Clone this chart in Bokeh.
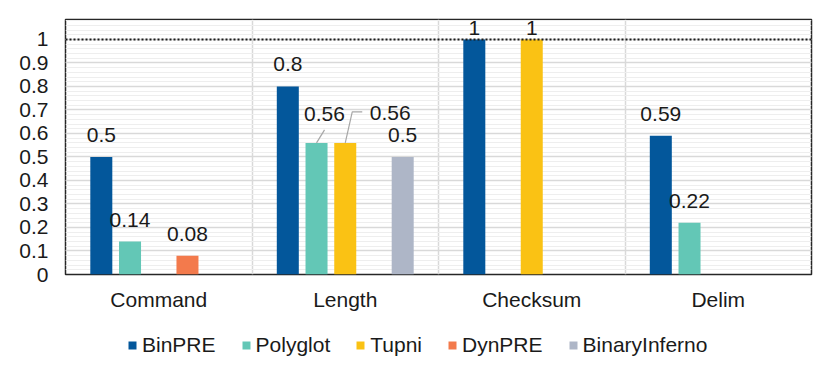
from bokeh.plotting import figure
from bokeh.layouts import column
from bokeh.models import (ColumnDataSource, Range1d, FixedTicker, SingleIntervalTicker,
                          CustomJSTickFormatter, Span, Legend, LegendItem)
from bokeh.core.properties import value
from bokeh.embed import file_html
from bokeh.resources import INLINE

categories = ["Command", "Length", "Checksum", "Delim"]
series = ["BinPRE", "Polyglot", "Tupni", "DynPRE", "BinaryInferno"]
binpre = [0.5, 0.8, 1, 0.59]
polyglot = [0.14, 0.56, 0, 0.22]
tupni = [0, 0.56, 1, 0]
dynpre = [0.08, 0, 0, 0]
binaryinferno = [0, 0.5, 0, 0]
values = [binpre, polyglot, tupni, dynpre, binaryinferno]
reference_line = 1
y_ticks = [0, 0.1, 0.2, 0.3, 0.4, 0.5, 0.6, 0.7, 0.8, 0.9, 1]

colors = ["#03579B", "#63C7B6", "#FAC214", "#F37A4C", "#AEB6C7"]
FONT = "Liberation Sans"
FS = "21px"
offsets = [-0.308, -0.154, 0.0, 0.154, 0.308]
bar_w = 0.118

# label pixel adjustments (style): (series index, category index) -> (dx, dy)
label_adjust = {(1, 1): (8, 29), (2, 1): (45, 30), (0, 2): (0, 11), (2, 2): (0, 11)}
default_dy = 22

W, H1, H2 = 822, 320, 48
ML, MR, MT, MB = 65, 11, 19, 46
YMAX = 1.085
px_y = (H1 - MT - MB) / YMAX
px_x = (W - ML - MR) / len(categories)

p = figure(width=W, height=H1, output_backend="svg", toolbar_location=None,
           x_range=Range1d(0, len(categories)), y_range=Range1d(0, YMAX),
           min_border_left=ML, min_border_right=MR, min_border_top=MT, min_border_bottom=MB)
p.background_fill_color = "white"
p.border_fill_color = "white"
p.outline_line_color = "#262626"
p.outline_line_width = 1.5

# grids
p.ygrid.ticker = SingleIntervalTicker(interval=0.1, num_minor_ticks=5)
p.ygrid.grid_line_color = "#d9d9d9"
p.ygrid.grid_line_width = 1.5
p.ygrid.minor_grid_line_color = "#eeeeee"
p.ygrid.minor_grid_line_width = 1
p.xgrid.ticker = FixedTicker(ticks=list(range(1, len(categories))))
p.xgrid.grid_line_color = "#d9d9d9"
p.xgrid.grid_line_width = 1.5

# axes
p.yaxis.ticker = FixedTicker(ticks=y_ticks)
p.yaxis.formatter = CustomJSTickFormatter(code="return (+tick.toFixed(2)).toString();")
p.xaxis.ticker = FixedTicker(ticks=[i + 0.5 for i in range(len(categories))])
p.xaxis.major_label_overrides = {i + 0.5: c for i, c in enumerate(categories)}
for ax in (p.xaxis, p.yaxis):
    ax.axis_line_color = None
    ax.major_tick_line_color = None
    ax.minor_tick_line_color = None
    ax.major_tick_out = 0
    ax.major_tick_in = 0
    ax.major_label_text_font = FONT
    ax.major_label_text_font_size = FS
    ax.major_label_text_color = "#1a1a1a"
p.yaxis.major_label_standoff = 17
p.xaxis.major_label_standoff = 13

# legend strip below the chart
q = figure(width=W, height=H2, output_backend="svg", toolbar_location=None,
           x_range=Range1d(0, 1), y_range=Range1d(0, 1), min_border=0)
q.axis.visible = False
q.grid.visible = False
q.outline_line_color = None
q.background_fill_color = "white"
q.border_fill_color = "white"
items = []

lx, ly, lt, ldx, ldy = [], [], [], [], []
for si, (name, vals) in enumerate(zip(series, values)):
    xs = [ci + 0.5 + offsets[si] for ci in range(len(categories)) if vals[ci] > 0]
    ys = [v for v in vals if v > 0]
    p.vbar(x=xs, top=ys, width=bar_w, bottom=0,
           fill_color=colors[si], line_color=None)
    r = q.vbar(x=xs, top=ys, width=bar_w, bottom=0,
               fill_color=colors[si], line_color=None, visible=False)
    items.append(LegendItem(label=name, renderers=[r]))
    for ci, v in enumerate(vals):
        if v > 0:
            dx, dy = label_adjust.get((si, ci), (0, default_dy))
            lx.append(ci + 0.5 + offsets[si]); ly.append(v)
            lt.append(f"{v:g}"); ldx.append(dx); ldy.append(-dy)

p.text(x="x", y="y", text="t", x_offset="dx", y_offset="dy",
       source=ColumnDataSource(dict(x=lx, y=ly, t=lt, dx=ldx, dy=ldy)),
       text_font=value(FONT), text_font_size=FS, text_color="#1a1a1a",
       text_align="center", text_baseline="alphabetic")

# leader lines for the Length labels (from bar tops)
li = categories.index("Length")
pb = li + 0.5 + offsets[1]
tb = li + 0.5 + offsets[2]
p.multi_line(xs=[[pb, pb + 8 / px_x], [tb, tb + 7 / px_x, tb + 17 / px_x]],
             ys=[[polyglot[li], polyglot[li] + 13 / px_y],
                 [tupni[li], tupni[li] + 31 / px_y, tupni[li] + 31 / px_y]],
             line_color="#a6a6a6", line_width=1.2)

p.add_layout(Span(location=reference_line, dimension="width", line_color="#1a1a1a",
                  line_width=2, line_dash="2 2"))

legend = Legend(items=items, orientation="horizontal", location=(62, 11),
                glyph_width=10, glyph_height=10, label_standoff=5, spacing=25,
                padding=0, margin=0, border_line_color=None, background_fill_alpha=0,
                label_text_font=FONT, label_text_font_size=FS,
                label_text_color="#1a1a1a")
q.add_layout(legend, "center")

open("out.html", "w").write(file_html(column(p, q), INLINE))
